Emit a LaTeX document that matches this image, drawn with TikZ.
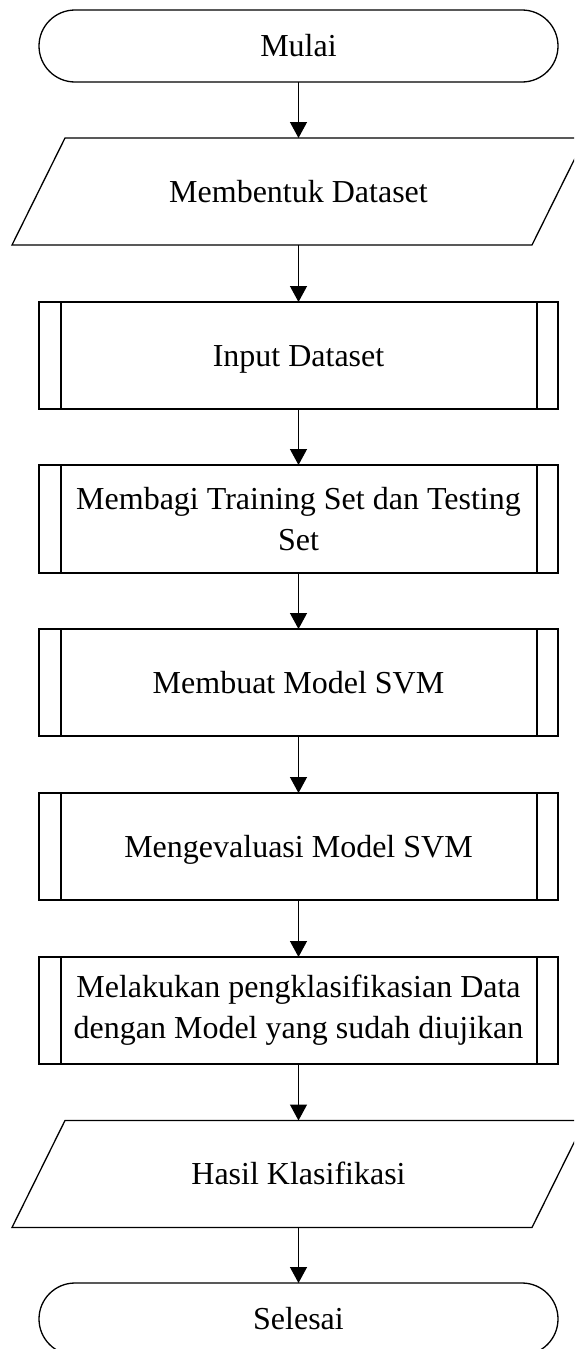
\documentclass[tikz,border=0pt]{standalone}
\usepackage{fontspec}
\setmainfont{Liberation Serif}
\usetikzlibrary{arrows.meta}
\begin{document}
\begin{tikzpicture}[x=1pt,y=-1pt,
  base/.style={font=\fontsize{32}{41}\selectfont, inner sep=0pt, outer sep=0pt, line width=1.3pt, minimum width=519pt, align=center},
  oneline/.style={text height=21.2pt,text depth=0pt},
  term/.style={base, draw, rounded corners=36pt, minimum height=72pt},
  proc/.style={base, draw, minimum height=107pt},
  io/.style={base, minimum width=520pt, minimum height=107pt},
  flow/.style={line width=1.3pt, -{Triangle[length=16pt,width=17pt]}},
  edge/.style={line width=1.3pt}
]
\clip (0,0) rectangle (574,1349);
\useasboundingbox (0,0) rectangle (574,1349);

\node[term, oneline] (t1) at (298.5,46) {Mulai};
\node[io, oneline]   (p1) at (298.5,191.5) {Membentuk Dataset};
\node[proc, oneline] (b1) at (298.5,355.5) {Input Dataset};
\node[proc, minimum height=108pt] (b2) at (298.5,519) {Membagi Training Set dan Testing\\Set};
\node[proc, oneline] (b3) at (298.5,682.5) {Membuat Model SVM};
\node[proc, oneline] (b4) at (298.5,846.5) {Mengevaluasi Model SVM};
\node[proc] (b5) at (298.5,1010.5) {Melakukan pengklasifikasian Data\\dengan Model yang sudah diujikan};
\node[io, oneline]   (p2) at (298.5,1174) {Hasil Klasifikasi};
\node[term, oneline] (t2) at (298.5,1319) {Selesai};

\foreach \n in {p1,p2}
  \draw[edge, line join=miter] ([xshift=-26.5pt]\n.south west) -- ([xshift=26.5pt]\n.north west)
     -- ([xshift=26.5pt]\n.north east) -- ([xshift=-26.5pt]\n.south east) -- cycle;

\foreach \n in {b1,b2,b3,b4,b5} {
  \draw[edge] ([xshift=22pt]\n.north west) -- ([xshift=22pt]\n.south west);
  \draw[edge] ([xshift=-21pt]\n.north east) -- ([xshift=-21pt]\n.south east);
}

\draw[flow] (t1) -- (p1);
\draw[flow] (p1) -- (b1);
\draw[flow] (b1) -- (b2);
\draw[flow] (b2) -- (b3);
\draw[flow] (b3) -- (b4);
\draw[flow] (b4) -- (b5);
\draw[flow] (b5) -- (p2);
\draw[flow] (p2) -- (t2);
\end{tikzpicture}
\end{document}
